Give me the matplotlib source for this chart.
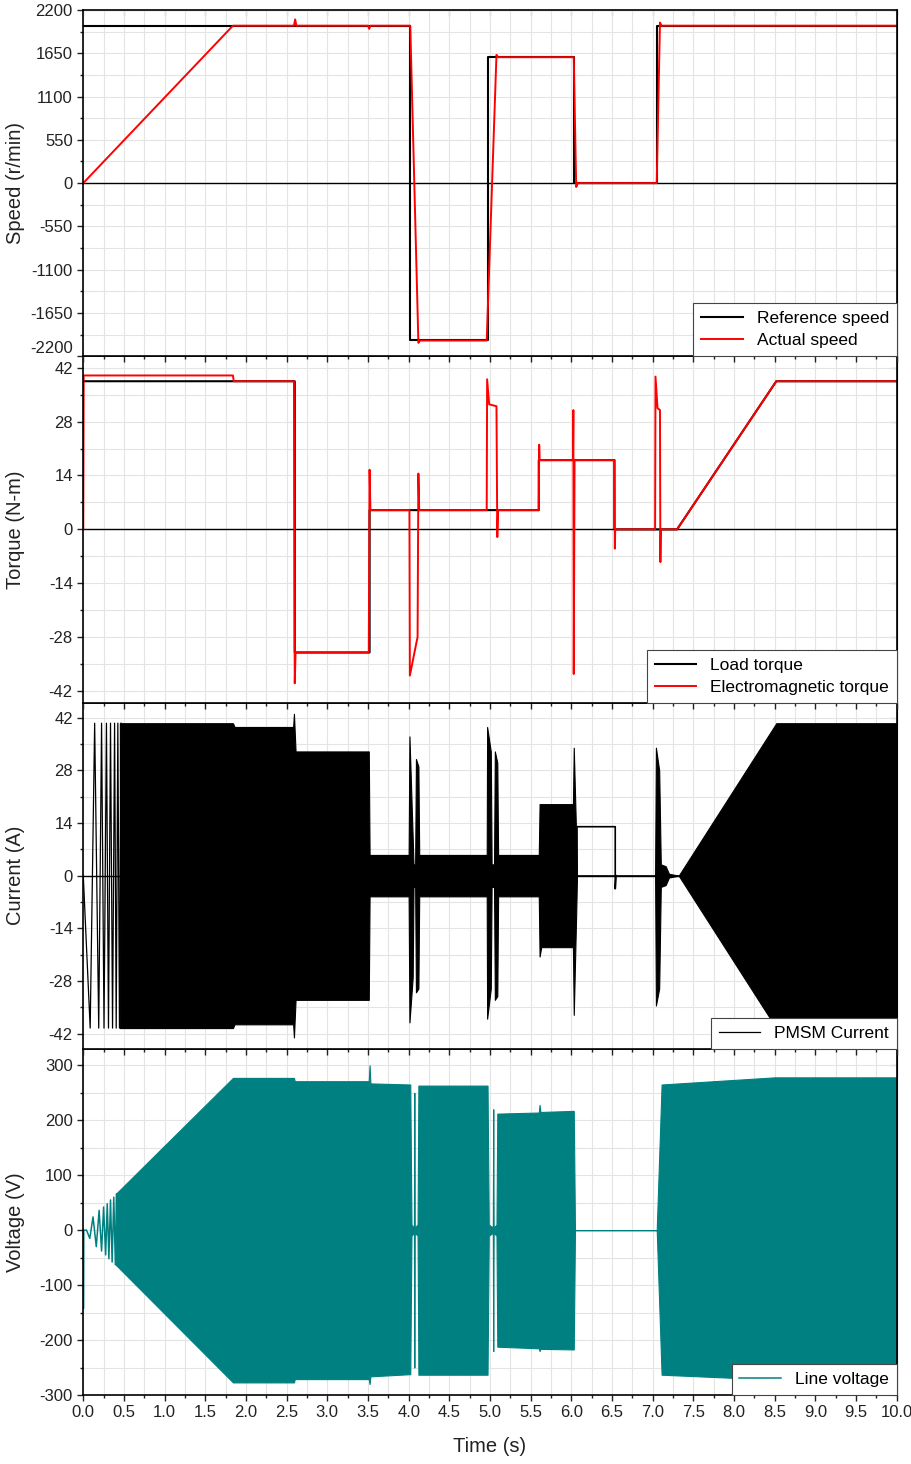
import matplotlib
matplotlib.use('Agg')
import matplotlib.pyplot as plt
from matplotlib.ticker import MultipleLocator, FormatStrFormatter, FuncFormatter
from matplotlib.transforms import blended_transform_factory

plt.rcParams['font.family'] = ['Liberation Sans', 'DejaVu Sans']
plt.rcParams['axes.unicode_minus'] = False

# speed (r/min)
ref_speed_t = [0, 4.02, 4.02, 4.97, 4.97, 6.03, 6.03, 7.05, 7.05, 10]
ref_speed = [2000, 2000, -2000, -2000, 1600, 1600, 0, 0, 2000, 2000]
act_speed_t = [0, 1.84, 2.59, 2.605, 2.62, 3.50, 3.515, 3.53, 4.02, 4.12, 4.14,
               4.96, 5.08, 5.10, 6.03, 6.06, 6.08, 7.05, 7.09, 7.11, 10]
act_speed = [0, 2000, 2000, 2080, 2000, 2000, 1960, 2000, 2000, -2030, -2000,
             -2000, 1630, 1600, 1600, -50, 0, 0, 2040, 2000, 2000]

# torque (N-m)
load_torque_t = [0, 2.60, 2.60, 3.52, 3.52, 5.60, 5.60, 6.53, 6.53, 7.30, 8.52, 10]
load_torque = [38.5, 38.5, -32, -32, 5, 5, 18, 18, 0, 0, 38.5, 38.5]
em_torque_t = [0, 0.005, 1.84, 1.85, 2.59, 2.60, 2.61, 3.51, 3.52, 3.53, 4.01, 4.015,
               4.10, 4.11, 4.12, 4.13, 4.96, 4.965, 4.99, 5.08, 5.09, 5.10, 5.60, 5.605,
               5.61, 6.02, 6.025, 6.03, 6.04, 6.53, 6.535, 6.54, 7.03, 7.035, 7.06, 7.09,
               7.095, 7.10, 7.30, 8.52, 10]
em_torque = [0, 40, 40, 38.5, 38.5, -40, -32, -32, 15.5, 5, 5, -38,
             -29, -28, 14.5, 5, 5, 39, 32.5, 32, -2, 5, 5, 22,
             18, 18, 31, -37.6, 18, 18, -5, 0, 0, 39.7, 31.5, 31,
             -8.5, 0, 0, 38.5, 38.5]

# current (A): first visible cycles, then envelope of the dense band
cur_osc_t = [0, 0.085, 0.14, 0.19, 0.225, 0.255, 0.285, 0.31, 0.335, 0.36,
             0.385, 0.405, 0.425, 0.445, 0.465]
cur_osc = [0, -40.5, 40.5, -40.5, 40.5, -40.5, 40.5, -40.5, 40.5, -40.5,
           40.5, -40.5, 40.5, -40.5, 40.5]
cur_env_t = [0.45, 1.84, 1.86, 2.58, 2.59, 2.61, 3.51, 3.52, 4.00, 4.01, 4.05, 4.06,
             4.08, 4.09, 4.12, 4.13, 4.96, 4.965, 5.01, 5.02, 5.05, 5.06, 5.09, 5.10,
             5.60, 5.61, 5.63, 6.02, 6.03, 6.06, 6.07, 7.03, 7.04, 7.08, 7.10, 7.16,
             7.20, 7.32, 8.52, 10]
cur_env_hi = [40.5, 40.5, 39.5, 39.5, 43, 33, 33, 5.5, 5.5, 37, 10, 3,
              3, 31, 29, 5.5, 5.5, 39.5, 33, 3, 3, 33, 30, 5.5,
              5.5, 19, 19, 19, 34, 10, 0, 0, 34, 28, 3, 2.5,
              0.5, 0, 40.5, 40.5]
cur_env_lo = [-40.5, -40.5, -39.5, -39.5, -43, -33, -33, -5.5, -5.5, -39, -27, -3,
              -3, -31, -30, -5.5, -5.5, -38, -30, -3, -3, -33, -32, -5.5,
              -5.5, -21.5, -19, -19, -37, -10, 0, 0, -34.5, -30, -3, -2.5,
              -0.5, 0, -40.5, -40.5]
cur_dc_t = [6.07, 6.07, 6.54, 6.54, 6.55]
cur_dc = [0, 13, 13, -3.5, 0]

# line voltage (V)
volt_osc_t = [0, 0.002, 0.006, 0.04, 0.08, 0.12, 0.16, 0.195, 0.225, 0.25, 0.275,
              0.295, 0.315, 0.335, 0.355, 0.375, 0.395, 0.41]
volt_osc = [0, -143, 0, 0, -15, 24, -30, 36, -38, 42, -45,
            48, -52, 55, -58, 60, -63, 66]
volt_env_t = [0.40, 1.84, 2.59, 2.60, 3.51, 3.52, 3.53, 4.02, 4.035, 4.065, 4.07,
              4.075, 4.11, 4.12, 4.97, 4.985, 5.035, 5.04, 5.045, 5.08, 5.09, 5.60,
              5.61, 5.62, 6.03, 6.045, 7.05, 7.11, 8.50, 10]
volt_env_hi = [66, 277, 277, 271, 271, 300, 267, 265, 10, 5, 250,
               5, 10, 263, 263, 10, 5, 220, 5, 10, 212, 214,
               228, 215, 217, 0, 0, 265, 278, 278]
volt_env_lo = [-63, -277, -277, -271, -271, -280, -266, -262, -10, -5, -250,
               -5, -10, -263, -263, -10, -5, -220, -5, -10, -212, -215,
               -220, -216, -217, 0, 0, -263, -272, -272]

TEAL = '#008080'
RED = '#ff0000'
TEXT = '#222222'


def style_axis(ax, ylim, major, minor, ylabel):
    ax.set_xlim(0, 10)
    ax.set_ylim(*ylim)
    ax.xaxis.set_major_locator(MultipleLocator(0.5))
    ax.xaxis.set_minor_locator(MultipleLocator(0.25))
    ax.yaxis.set_major_locator(MultipleLocator(major))
    ax.yaxis.set_minor_locator(MultipleLocator(minor))
    ax.grid(which='both', color='#e4e4e4', lw=0.8)
    ax.set_axisbelow(True)
    ax.tick_params(which='both', direction='out', labelsize=12, width=1,
                   colors=TEXT)
    ax.tick_params(which='major', length=4)
    ax.tick_params(which='minor', length=2.5)
    for s in ax.spines.values():
        s.set_linewidth(1.2)
    right = ax.secondary_yaxis('right')
    right.yaxis.set_major_locator(MultipleLocator(major))
    right.yaxis.set_minor_locator(MultipleLocator(minor))
    right.tick_params(which='both', direction='in', labelright=False)
    right.tick_params(which='major', length=4)
    right.tick_params(which='minor', length=2.5)
    ax.set_ylabel(ylabel, fontsize=14.5, color=TEXT)
    ax.yaxis.set_label_coords(-0.072, 0.5)


def add_legend(ax):
    leg = ax.legend(loc='lower right', borderaxespad=0, fancybox=False, fontsize=12.5,
                    handlelength=2.4, borderpad=0.45, labelspacing=0.4, framealpha=1)
    leg.get_frame().set_edgecolor('#444444')
    leg.get_frame().set_linewidth(0.8)


fig, axes = plt.subplots(4, 1, figsize=(9.12, 14.64), dpi=100, sharex=True,
                         gridspec_kw={'hspace': 0})
fig.subplots_adjust(left=0.0913, right=0.9832, top=0.9932, bottom=0.0471)
ax1, ax2, ax3, ax4 = axes
for i, ax in enumerate(axes):
    ax.set_zorder(10 - i)

# speed
style_axis(ax1, (-2200, 2200), 550, 275, 'Speed (r/min)')
# the lowest label sits just above its tick, as in the reference
ax1.yaxis.set_major_formatter(FuncFormatter(lambda v, p: '' if v <= -2200 else '%d' % v))
ax1.text(-0.0125, -2200, '-2200', fontsize=12, color=TEXT, ha='right', va='bottom',
         transform=blended_transform_factory(ax1.transAxes, ax1.transData))
ax1.axhline(0, color='black', lw=1)
ax1.plot(ref_speed_t, ref_speed, color='black', lw=1.5, label='Reference speed')
ax1.plot(act_speed_t, act_speed, color=RED, lw=1.4, label='Actual speed')
top = ax1.secondary_xaxis('top')
top.xaxis.set_major_locator(MultipleLocator(0.5))
top.xaxis.set_minor_locator(MultipleLocator(0.25))
top.tick_params(which='both', direction='in', labeltop=False)
top.tick_params(which='major', length=4)
top.tick_params(which='minor', length=2.5)
add_legend(ax1)

# torque
style_axis(ax2, (-45, 45), 14, 7, 'Torque (N-m)')
ax2.axhline(0, color='black', lw=1)
ax2.plot(load_torque_t, load_torque, color='black', lw=1.5, label='Load torque')
ax2.plot(em_torque_t, em_torque, color=RED, lw=1.4, label='Electromagnetic torque')
add_legend(ax2)

# current
style_axis(ax3, (-46, 46), 14, 7, 'Current (A)')
ax3.axhline(0, color='black', lw=1)
ax3.plot(cur_osc_t, cur_osc, color='black', lw=0.9, label='PMSM Current')
ax3.fill_between(cur_env_t, cur_env_lo, cur_env_hi, color='black', lw=0.8)
ax3.plot(cur_dc_t, cur_dc, color='black', lw=1.2)
add_legend(ax3)

# voltage
style_axis(ax4, (-300, 330), 100, 50, 'Voltage (V)')
ax4.plot(volt_osc_t, volt_osc, color=TEAL, lw=1.1, label='Line voltage')
ax4.fill_between(volt_env_t, volt_env_lo, volt_env_hi, color=TEAL, lw=0.8)
ax4.xaxis.set_major_formatter(FormatStrFormatter('%.1f'))
ax4.set_xlabel('Time (s)', fontsize=14.5, labelpad=12, color=TEXT)
add_legend(ax4)

fig.savefig('out.png', dpi=100)
